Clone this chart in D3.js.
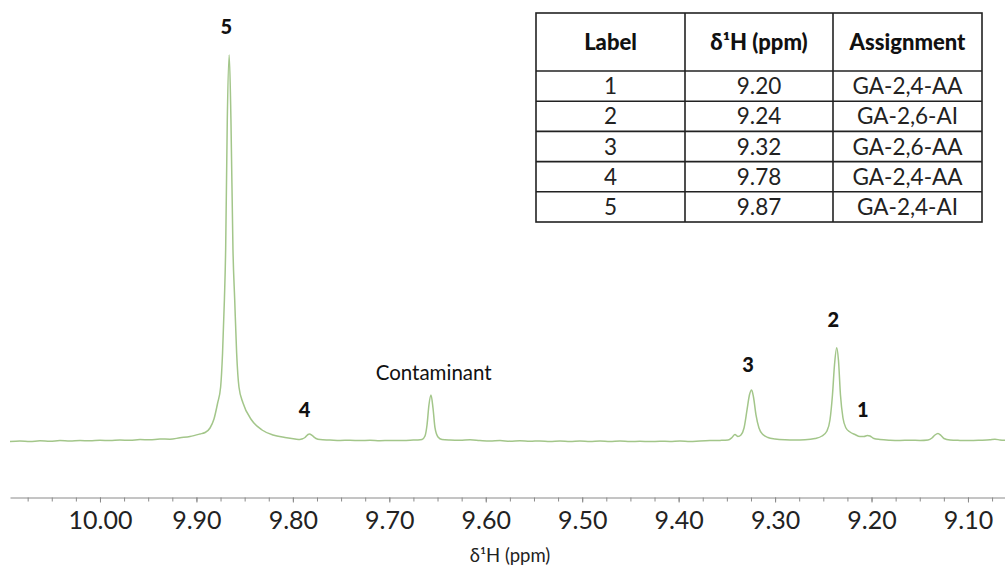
<!DOCTYPE html>
<html>
<head>
<meta charset="utf-8">
<script src="https://cdn.jsdelivr.net/npm/d3@7"></script>
<style>
  body { margin: 0; background: #fff; }
  svg { display: block; font-family: Lato, "Open Sans", sans-serif; }
</style>
</head>
<body>
<svg id="chart" width="1005" height="570"></svg>
<script>
// spectrum (ppm, relative intensity, tallest peak = 100)
const spectrumPpm = [
  10.0933, 10.0830, 10.0726, 10.0622, 10.0518, 10.0415, 10.0311, 10.0207, 10.0104, 10.0000,
  9.9896, 9.9793, 9.9689, 9.9585, 9.9482, 9.9378, 9.9274, 9.9170, 9.9067, 9.8963,
  9.8911, 9.8859, 9.8818, 9.8780, 9.8749, 9.8729, 9.8710, 9.8697, 9.8680, 9.8660,
  9.8642, 9.8621, 9.8603, 9.8583, 9.8559, 9.8517, 9.8428, 9.8320, 9.8206, 9.8082,
  9.7978, 9.7926, 9.7905, 9.7874, 9.7843, 9.7827, 9.7801, 9.7760, 9.7718, 9.7615,
  9.7511, 9.7408, 9.7304, 9.7200, 9.7097, 9.6993, 9.6889, 9.6785, 9.6703, 9.6661,
  9.6630, 9.6609, 9.6589, 9.6568, 9.6547, 9.6526, 9.6495, 9.6454, 9.6371, 9.6267,
  9.6163, 9.6060, 9.5956, 9.5852, 9.5749, 9.5645, 9.5541, 9.5438, 9.5334, 9.5230,
  9.5126, 9.5023, 9.4919, 9.4815, 9.4712, 9.4608, 9.4504, 9.4401, 9.4297, 9.4193,
  9.4090, 9.3986, 9.3882, 9.3779, 9.3675, 9.3571, 9.3488, 9.3447, 9.3416, 9.3385,
  9.3354, 9.3322, 9.3291, 9.3266, 9.3243, 9.3224, 9.3198, 9.3167, 9.3126, 9.3074,
  9.3001, 9.2897, 9.2794, 9.2690, 9.2586, 9.2514, 9.2462, 9.2431, 9.2405, 9.2384,
  9.2361, 9.2343, 9.2322, 9.2296, 9.2265, 9.2223, 9.2172, 9.2120, 9.2078, 9.2043,
  9.2016, 9.1975, 9.1912, 9.1808, 9.1705, 9.1601, 9.1497, 9.1414, 9.1373, 9.1342,
  9.1311, 9.1280, 9.1249, 9.1186, 9.1083, 9.0979, 9.0875, 9.0772, 9.0720, 9.0668,
  9.0616
];
const spectrumIntensity = [
  0.13, 0.26, 0.13, 0.31, 0.18, 0.36, 0.26, 0.39, 0.31, 0.44,
  0.36, 0.52, 0.44, 0.62, 0.57, 0.78, 0.72, 1.09, 1.42, 2.07,
  2.45, 3.62, 5.94, 10.08, 14.21, 23.0, 36.7, 49.6, 83.2, 100,
  83.2, 49.6, 36.7, 23.0, 14.21, 10.08, 5.68, 3.10, 1.81, 1.16,
  0.78, 0.65, 0.78, 1.16, 1.94, 2.07, 1.68, 0.90, 0.62, 0.52,
  0.41, 0.47, 0.36, 0.44, 0.34, 0.41, 0.36, 0.47, 0.52, 0.65,
  1.55, 4.39, 9.56, 12.14, 8.79, 3.62, 1.29, 0.65, 0.52, 0.47,
  0.57, 0.39, 0.26, 0.36, 0.21, 0.31, 0.18, 0.28, 0.16, 0.26,
  0.13, 0.26, 0.16, 0.26, 0.13, 0.23, 0.10, 0.21, 0.10, 0.21,
  0.13, 0.23, 0.13, 0.26, 0.36, 0.41, 0.52, 1.16, 1.94, 1.42,
  1.81, 3.62, 8.27, 12.14, 13.44, 11.63, 6.98, 3.62, 1.94, 1.16,
  0.78, 0.57, 0.52, 0.57, 0.90, 1.55, 2.84, 5.68, 12.14, 19.90,
  24.37, 21.19, 12.14, 6.20, 3.62, 2.58, 1.94, 1.42, 1.42, 1.68,
  1.55, 0.90, 0.65, 0.47, 0.41, 0.47, 0.39, 0.52, 1.03, 1.81,
  2.20, 1.68, 0.90, 0.52, 0.41, 0.36, 0.44, 0.57, 0.72, 0.52,
  0.44
];

// peak annotations (ppm and height of the label baseline, same units)
const peakNames = ["5", "4", "Contaminant", "3", "2", "1"];
const peakLabelPpm = [9.869, 9.788, 9.654, 9.328, 9.2395, 9.209];
const peakLabelLevel = [105.4, 6.5, 16.0, 18.1, 29.7, 6.5];

// axis ticks
const majorTicks = [10.00, 9.90, 9.80, 9.70, 9.60, 9.50, 9.40, 9.30, 9.20, 9.10];
const minorTicks = d3.range(10.075, 9.05, -0.025);

// assignment table
const tableHeader = ["Label", "δ¹H (ppm)", "Assignment"];
const tableLabel = ["1", "2", "3", "4", "5"];
const tableShift = ["9.20", "9.24", "9.32", "9.78", "9.87"];
const tableAssign = ["GA-2,4-AA", "GA-2,6-AI", "GA-2,6-AA", "GA-2,4-AA", "GA-2,4-AI"];

const svg = d3.select("#chart");
const lineColor = "#a3c68a";

const x = d3.scaleLinear().domain([10.0933, 9.0616]).range([10, 1005]);
const y = d3.scaleLinear().domain([0, 100]).range([442, 55]);

// axis: minor ticks first, then majors with labels
const axisY = 497.5;
svg.append("g")
  .attr("transform", `translate(0,${axisY})`)
  .call(d3.axisBottom(x).tickValues(minorTicks).tickSize(4).tickFormat(""))
  .call(g => g.select(".domain").remove())
  .selectAll("line").attr("stroke", "#8a8a8a");

const xAxis = svg.append("g")
  .attr("transform", `translate(0,${axisY})`)
  .call(d3.axisBottom(x).tickValues(majorTicks).tickSize(5).tickSizeOuter(0)
    .tickPadding(9).tickFormat(d3.format(".2f")));
xAxis.select(".domain").attr("stroke", "#8a8a8a");
xAxis.selectAll("line").attr("stroke", "#8a8a8a");
xAxis.selectAll("text")
  .attr("fill", "#222")
  .style("font-size", "25px")
  .style("font-family", "Lato, sans-serif");

svg.append("text")
  .attr("x", 510).attr("y", 562)
  .attr("text-anchor", "middle")
  .attr("fill", "#222")
  .style("font-size", "18.5px")
  .text("δ¹H (ppm)");

// spectrum trace
const spectrum = spectrumPpm.map((p, i) => ({ ppm: p, v: spectrumIntensity[i] }));
svg.append("path")
  .datum(spectrum)
  .attr("fill", "none")
  .attr("stroke", lineColor)
  .attr("stroke-width", 1.5)
  .attr("stroke-linejoin", "round")
  .attr("d", d3.line().x(d => x(d.ppm)).y(d => y(d.v)).curve(d3.curveMonotoneX));

// peak labels
svg.selectAll(".peak-label")
  .data(peakNames)
  .enter().append("text")
  .attr("class", "peak-label")
  .attr("x", (d, i) => x(peakLabelPpm[i]))
  .attr("y", (d, i) => y(peakLabelLevel[i]))
  .attr("text-anchor", "middle")
  .attr("fill", "#111")
  .style("font-size", d => d.length > 1 ? "20.5px" : "20px")
  .style("font-weight", d => d.length > 1 ? 400 : 900)
  .text(d => d);

// table
const colEdges = [536, 685, 833, 982];
const tableTop = 13, headerH = 58, rowH = 30.2;
const tableBottom = tableTop + headerH + rowH * tableLabel.length;
const table = svg.append("g");

table.append("rect")
  .attr("x", colEdges[0]).attr("y", tableTop)
  .attr("width", colEdges[3] - colEdges[0]).attr("height", tableBottom - tableTop)
  .attr("fill", "#fff").attr("stroke", "#222").attr("stroke-width", 1.6);

[1, 2].forEach(c => {
  table.append("line")
    .attr("x1", colEdges[c]).attr("x2", colEdges[c])
    .attr("y1", tableTop).attr("y2", tableBottom)
    .attr("stroke", "#222").attr("stroke-width", 1.6);
});

d3.range(tableLabel.length).forEach(r => {
  const yy = tableTop + headerH + rowH * r;
  table.append("line")
    .attr("x1", colEdges[0]).attr("x2", colEdges[3])
    .attr("y1", yy).attr("y2", yy)
    .attr("stroke", "#222").attr("stroke-width", 1.6);
});

const colMid = c => (colEdges[c] + colEdges[c + 1]) / 2;

table.selectAll(".th")
  .data(tableHeader)
  .enter().append("text")
  .attr("class", "th")
  .attr("x", (d, i) => colMid(i))
  .attr("y", tableTop + headerH / 2 + 8)
  .attr("text-anchor", "middle")
  .attr("fill", "#111")
  .style("font-size", "22px")
  .style("font-weight", 900)
  .text(d => d);

const rows = tableLabel.map((l, i) => [l, tableShift[i], tableAssign[i]]);
rows.forEach((row, r) => {
  const yy = tableTop + headerH + rowH * r + rowH / 2 + 8;
  row.forEach((cell, c) => {
    table.append("text")
      .attr("x", colMid(c)).attr("y", yy)
      .attr("text-anchor", "middle")
      .attr("fill", "#222")
      .style("font-size", "22.5px")
      .text(cell);
  });
});
</script>
</body>
</html>
